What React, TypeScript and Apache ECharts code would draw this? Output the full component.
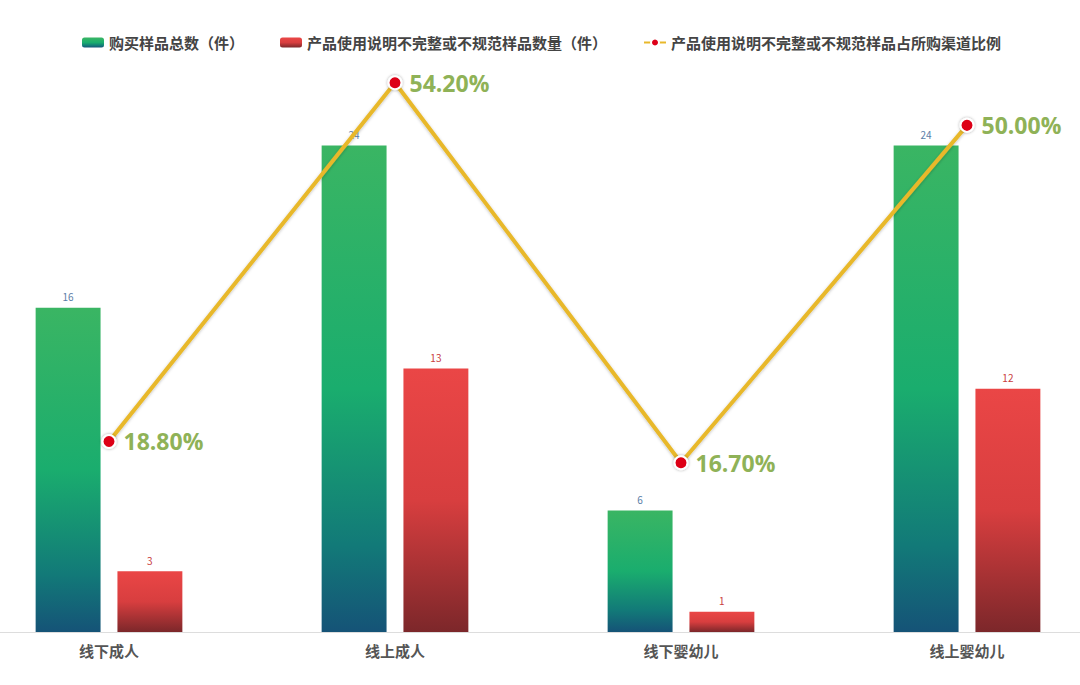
import React, { useEffect, useRef } from "react";
import * as echarts from "echarts";

const categories = ["线下成人", "线上成人", "线下婴幼儿", "线上婴幼儿"];
const totalSamples = [16, 24, 6, 24];
const badSamples = [3, 13, 1, 12];
const badRatio = [18.8, 54.2, 16.7, 50.0];
const seriesNames = [
  "购买样品总数（件）",
  "产品使用说明不完整或不规范样品数量（件）",
  "产品使用说明不完整或不规范样品占所购渠道比例",
];

const FONT = "'Noto Sans CJK SC', 'Noto Sans', sans-serif";

// the plot is wider than the page: the first and last categories are cut at the edges
const OFFSET_X = 34;
const CHART_W = 1144;

const App: React.FC = () => {
  const chartRef = useRef<HTMLDivElement>(null);

  useEffect(() => {
    if (!chartRef.current) return;
    const myChart = echarts.init(chartRef.current, undefined, { renderer: "svg" });

    const greenGrad = new echarts.graphic.LinearGradient(0, 0, 0, 1, [
      { offset: 0, color: "#3ab563" },
      { offset: 0.5, color: "#1aad6e" },
      { offset: 0.82, color: "#127a78" },
      { offset: 1, color: "#155377" },
    ]);
    const redGrad = new echarts.graphic.LinearGradient(0, 0, 0, 1, [
      { offset: 0, color: "#ea4646" },
      { offset: 0.5, color: "#d83e3f" },
      { offset: 1, color: "#7c272a" },
    ]);

    const option: echarts.EChartsOption = {
      animation: false,
      backgroundColor: "#ffffff",
      textStyle: { fontFamily: FONT },
      legend: {
        top: 30,
        left: 77 + OFFSET_X,
        itemWidth: 22,
        itemHeight: 10,
        itemGap: 36,
        textStyle: { color: "#444", fontSize: 15, fontWeight: "bold", fontFamily: FONT },
        data: seriesNames,
      },
      grid: { left: 0, right: 0, top: 24, bottom: 53 },
      xAxis: {
        type: "category",
        data: categories,
        axisLine: { lineStyle: { color: "#dddddd", width: 1 } },
        axisTick: { show: false },
        axisLabel: { color: "#555", fontSize: 15, fontWeight: "bold", margin: 11, fontFamily: FONT },
        splitLine: { show: false },
      },
      yAxis: [
        { type: "value", min: 0, max: 30, show: false, splitLine: { show: false } },
        { type: "value", min: 0, max: 60, show: false, splitLine: { show: false } },
      ],
      series: [
        {
          name: seriesNames[0],
          type: "bar",
          data: totalSamples,
          barWidth: "22.7%",
          barGap: "26%",
          itemStyle: { color: greenGrad },
          label: { show: true, position: "top", color: "#5b7ea8", fontSize: 10, distance: 6 },
          z: 2,
        },
        {
          name: seriesNames[1],
          type: "bar",
          data: badSamples,
          barWidth: "22.7%",
          itemStyle: { color: redGrad },
          label: { show: true, position: "top", color: "#c94040", fontSize: 10, distance: 6 },
          z: 2,
        },
        {
          name: seriesNames[2],
          type: "line",
          yAxisIndex: 1,
          data: badRatio,
          symbol: "circle",
          symbolSize: 13,
          lineStyle: {
            color: "#e8b82b",
            width: 4,
            shadowColor: "rgba(0,0,0,0.25)",
            shadowBlur: 3,
            shadowOffsetY: 1,
          },
          itemStyle: {
            color: "#dd0019",
            borderColor: "#ffffff",
            borderWidth: 2,
            shadowColor: "rgba(0,0,0,0.35)",
            shadowBlur: 3,
          },
          label: {
            show: true,
            position: "right",
            distance: 7,
            color: "#8fb257",
            fontSize: 23,
            fontWeight: "bold",
            fontFamily: "'Open Sans', 'Noto Sans', sans-serif",
            formatter: (p: any) => `${Number(p.value).toFixed(2)}%`,
          },
          z: 5,
        },
      ],
    };

    myChart.setOption(option);
    return () => {
      myChart.dispose();
    };
  }, []);

  return (
    <div style={{ position: "fixed", left: 0, top: 0, width: "1080px", height: "685px", overflow: "hidden" }}>
      <div
        ref={chartRef}
        style={{ position: "absolute", left: `${-OFFSET_X}px`, top: 0, width: `${CHART_W}px`, height: "685px" }}
      />
    </div>
  );
};

export default App;
